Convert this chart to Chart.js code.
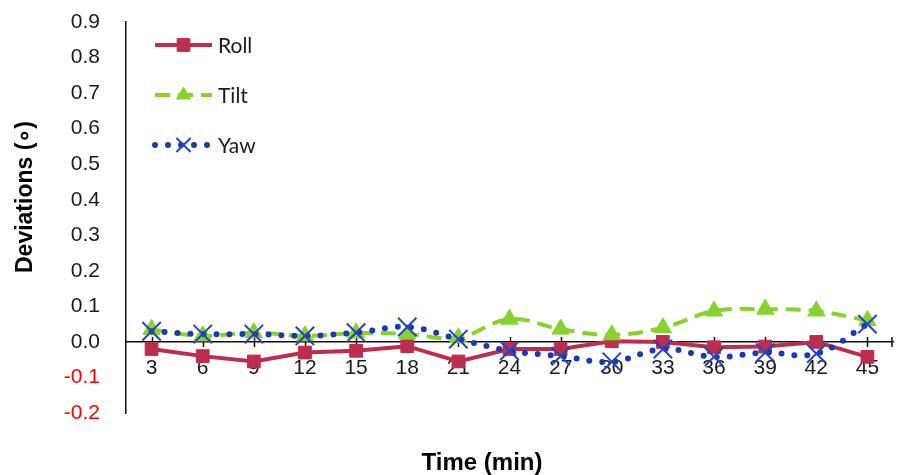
<!DOCTYPE html>
<html>
<head>
<meta charset="utf-8">
<script src="https://cdn.jsdelivr.net/npm/chart.js@4/dist/chart.umd.min.js"></script>
<style>
  html, body { margin: 0; padding: 0; background: #ffffff; }
  #wrap { width: 908px; height: 475px; }
</style>
</head>
<body>
<div id="wrap"><canvas id="chart" width="908" height="475"></canvas></div>
<script>
// Sampling times (minutes)
const timeLabels = ['3', '6', '9', '12', '15', '18', '21', '24', '27', '30', '33', '36', '39', '42', '45'];

// Angular deviations (degrees) per axis
const rollValues = [-0.02, -0.04, -0.055, -0.03, -0.025, -0.012, -0.055, -0.02, -0.02, 0.002, 0.0, -0.015, -0.013, 0.0, -0.042];
const tiltValues = [0.035, 0.017, 0.026, 0.017, 0.025, 0.022, 0.012, 0.064, 0.036, 0.02, 0.04, 0.087, 0.092, 0.087, 0.06];
const yawValues  = [0.03, 0.022, 0.022, 0.017, 0.026, 0.042, 0.008, -0.025, -0.04, -0.056, -0.02, -0.042, -0.03, -0.033, 0.05];

// Value axis range
const yMin = -0.2;
const yMax = 0.9;
const yStep = 0.1;

const axisTitleX = 'Time (min)';
const axisTitleY = 'Deviations (\u2218)';

const ROLL = '#BE2D4D';
const TILT = '#86D32E';
const YAW  = '#1B3AAE';

// Tick marks crossing the time axis, the legend rows and the axis titles
const decorations = {
  id: 'decorations',
  beforeDatasetsDraw(chart) {
    const { ctx, chartArea, scales } = chart;
    const xs = scales.x;
    const y0 = scales.y.getPixelForValue(0);
    ctx.save();
    ctx.strokeStyle = '#111';
    ctx.lineWidth = 1.5;
    ctx.beginPath();
    for (let i = 0; i < xs.ticks.length; i++) {
      const px = Math.round(xs.getPixelForTick(i)) + 0.5;
      ctx.moveTo(px, y0 - 5);
      ctx.lineTo(px, y0 + 5);
    }
    ctx.moveTo(chartArea.right - 1, y0 - 5);
    ctx.lineTo(chartArea.right - 1, y0 + 5);
    ctx.stroke();
    ctx.restore();
  },
  afterDraw(chart) {
    const { ctx, chartArea } = chart;
    // legend rows
    const x0 = chartArea.left + 29;
    const x1 = chartArea.left + 86;
    const yTop = chartArea.top + 23;
    chart.data.datasets.forEach((ds, i) => {
      const y = yTop + i * 50;
      ctx.save();
      ctx.strokeStyle = ds.borderColor;
      ctx.lineWidth = ds.borderWidth;
      ctx.lineCap = ds.borderCapStyle || 'butt';
      ctx.setLineDash(ds.borderDash || []);
      ctx.beginPath();
      ctx.moveTo(x0, y);
      ctx.lineTo(x1, y);
      ctx.stroke();
      ctx.setLineDash([]);
      ctx.lineCap = 'butt';
      ctx.fillStyle = ds.pointBackgroundColor;
      ctx.strokeStyle = ds.pointBorderColor;
      ctx.lineWidth = ds.pointBorderWidth;
      Chart.helpers.drawPoint(ctx, {
        pointStyle: ds.pointStyle,
        radius: ds.legendRadius,
        rotation: 0,
        borderWidth: ds.pointBorderWidth
      }, (x0 + x1) / 2, y);
      ctx.fillStyle = '#1a1a1a';
      ctx.font = '21px Lato';
      ctx.textAlign = 'left';
      ctx.textBaseline = 'middle';
      ctx.fillText(ds.label, x1 + 6, y + 1);
      ctx.restore();
    });

    // axis titles
    ctx.save();
    ctx.fillStyle = '#000';
    ctx.font = 'bold 24px "Liberation Sans", Arial, sans-serif';
    ctx.textAlign = 'center';
    ctx.textBaseline = 'middle';
    ctx.fillText(axisTitleX, 482, 463);
    ctx.translate(26, 197);
    ctx.rotate(-Math.PI / 2);
    ctx.font = 'bold 23px "Liberation Sans", Arial, sans-serif';
    ctx.fillText(axisTitleY, 0, 0);
    ctx.restore();
  }
};

new Chart(document.getElementById('chart'), {
  type: 'line',
  data: {
    labels: timeLabels,
    datasets: [
      {
        label: 'Roll',
        data: rollValues,
        borderColor: ROLL,
        backgroundColor: ROLL,
        borderWidth: 4,
        tension: 0,
        pointStyle: 'rect',
        pointRadius: 9,
        legendRadius: 9,
        pointBackgroundColor: ROLL,
        pointBorderColor: ROLL,
        pointBorderWidth: 1,
        order: 3
      },
      {
        label: 'Tilt',
        data: tiltValues,
        borderColor: TILT,
        backgroundColor: TILT,
        borderWidth: 4,
        borderDash: [15, 8],
        tension: 0.4,
        pointStyle: 'triangle',
        pointRadius: 10,
        legendRadius: 8,
        pointBackgroundColor: TILT,
        pointBorderColor: TILT,
        pointBorderWidth: 1,
        order: 2
      },
      {
        label: 'Yaw',
        data: yawValues,
        borderColor: YAW,
        backgroundColor: YAW,
        borderWidth: 6,
        borderDash: [0, 13],
        borderCapStyle: 'round',
        tension: 0.4,
        pointStyle: 'crossRot',
        pointRadius: 13,
        legendRadius: 10,
        pointBackgroundColor: YAW,
        pointBorderColor: '#2444C4',
        pointBorderWidth: 2,
        order: 1
      }
    ]
  },
  options: {
    responsive: false,
    animation: false,
    layout: { padding: { left: 0, right: 2, top: 22, bottom: 62 } },
    plugins: {
      legend: { display: false },
      tooltip: { enabled: false }
    },
    scales: {
      x: {
        type: 'category',
        offset: true,
        position: { y: 0 },
        grid: { display: false, drawTicks: false },
        border: { display: true, color: '#111', width: 1.5 },
        ticks: {
          color: '#1a1a1a',
          padding: 14,
          maxRotation: 0,
          autoSkip: false,
          font: { family: '"Liberation Sans", Arial, sans-serif', size: 21 }
        }
      },
      y: {
        min: yMin,
        max: yMax,
        afterFit(scale) { scale.width = 126; },
        // invisible tick marks keep the labels clear of the axis line
        grid: { display: true, drawOnChartArea: false, drawTicks: true, tickLength: 26, color: 'rgba(0,0,0,0)' },
        border: { display: true, color: '#111', width: 1.5 },
        ticks: {
          stepSize: yStep,
          padding: 0,
          color: (c) => (c.tick && c.tick.value < -1e-9 ? '#FF0000' : '#1a1a1a'),
          font: { family: '"Liberation Sans", Arial, sans-serif', size: 21 },
          callback: (v) => Number(v).toFixed(1)
        }
      }
    }
  },
  plugins: [decorations]
});
</script>
</body>
</html>
